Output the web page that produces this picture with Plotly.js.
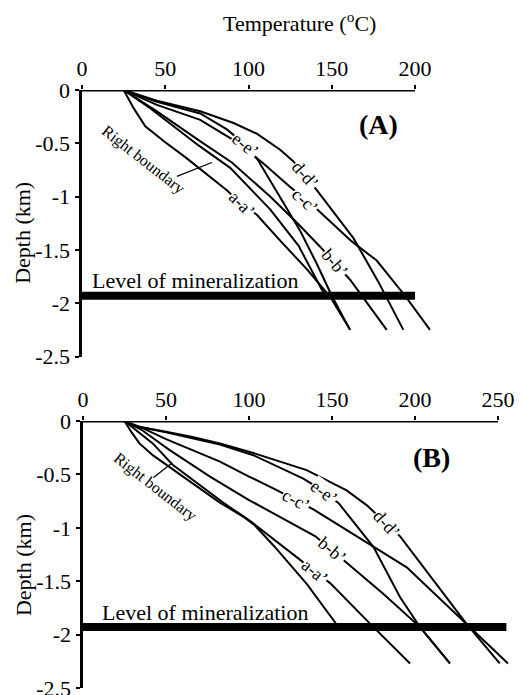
<!DOCTYPE html>
<html><head><meta charset="utf-8">
<script src="https://cdn.plot.ly/plotly-3.0.1.min.js"></script>
<style>html,body{margin:0;padding:0;background:#fff;}#chart{width:523px;height:695px;}</style>
</head><body><div id="chart"></div>
<script>
// ---------- Panel A (temperature °C, depth km) ----------
const A_a_T  = [25,31,38,50,62,75,87,95,105,120,135,149,161];
const A_a_D  = [0,-0.17,-0.34,-0.49,-0.63,-0.79,-0.94,-1.06,-1.17,-1.43,-1.68,-1.94,-2.25];
const A_b_T  = [25,45,70,90,113,130,143,161,183];
const A_b_D  = [0,-0.20,-0.47,-0.68,-1.00,-1.26,-1.47,-1.78,-2.25];
const A_c_T  = [25,45,71,91,109,125,135,144,162,177,194,209];
const A_c_D  = [0,-0.14,-0.28,-0.47,-0.69,-0.91,-1.03,-1.16,-1.42,-1.60,-1.93,-2.25];
const A_d_T  = [25,45,71,91,105,119,127,134,141,163,178,193];
const A_d_D  = [0,-0.10,-0.20,-0.31,-0.41,-0.56,-0.67,-0.80,-0.94,-1.39,-1.80,-2.25];
const A_e_T  = [25,45,71,87,97,105,118,131,141,150,161];
const A_e_D  = [0,-0.11,-0.22,-0.37,-0.50,-0.64,-0.98,-1.32,-1.63,-1.93,-2.25];
const A_rb_T = [25,40,55,70,89,113,130,146];
const A_rb_D = [0,-0.16,-0.34,-0.52,-0.73,-1.12,-1.46,-1.93];
const A_min_T = [0,200];

// ---------- Panel B ----------
const B_a_T  = [25,30,42,54,70,85,101,127,149,173,197];
const B_a_D  = [0,-0.06,-0.21,-0.41,-0.60,-0.77,-0.94,-1.25,-1.52,-1.90,-2.27];
const B_b_T  = [25,35,52,76.5,100,120,140,159,181,203,221];
const B_b_D  = [0,-0.08,-0.27,-0.52,-0.74,-0.91,-1.08,-1.33,-1.62,-1.93,-2.27];
const B_c_T  = [25,35,50,65,82.5,100,117,139,173,195,231,256];
const B_c_D  = [0,-0.06,-0.17,-0.27,-0.38,-0.52,-0.65,-0.83,-1.16,-1.37,-1.90,-2.27];
const B_d_T  = [25,32,50,66,82.5,102.6,134.7,158.8,171,191,211,231,251];
const B_d_D  = [0,-0.05,-0.10,-0.15,-0.21,-0.30,-0.46,-0.65,-0.79,-1.08,-1.49,-1.90,-2.27];
const B_e_T  = [25,32,50,66,82.5,102.6,132.7,140,154,175,191,203,221];
const B_e_D  = [0,-0.05,-0.105,-0.16,-0.22,-0.32,-0.54,-0.61,-0.77,-1.18,-1.65,-1.93,-2.27];
const B_rb_T = [25,29,34,42,62,82,97,103,115,135,153];
const B_rb_D = [0,-0.10,-0.21,-0.32,-0.54,-0.76,-0.90,-0.97,-1.17,-1.53,-1.91];
const B_min_T = [0,255];

const mineralDepth = -1.93;
const tickA = [0,50,100,150,200];
const tickB = [0,50,100,150,200,250];
const depthTicks = [0,-0.5,-1,-1.5,-2,-2.5];
const depthTickText = ['0','-0.5','-1','-1.5','-2','-2.5'];

const FONT = 'Liberation Serif, Times New Roman, serif';
function curve(T, D, xa, ya) {
  return {x: T, y: D, xaxis: xa, yaxis: ya, type: 'scatter', mode: 'lines',
          line: {color: '#000', width: 2}, hoverinfo: 'skip', showlegend: false};
}
function bar(T, xa, ya) {
  return {x: T, y: T.map(() => mineralDepth), xaxis: xa, yaxis: ya, type: 'scatter', mode: 'lines',
          line: {color: '#000', width: 8}, hoverinfo: 'skip', showlegend: false};
}
const data = [
  curve(A_a_T, A_a_D, 'x', 'y'), curve(A_b_T, A_b_D, 'x', 'y'), curve(A_c_T, A_c_D, 'x', 'y'),
  curve(A_d_T, A_d_D, 'x', 'y'), curve(A_e_T, A_e_D, 'x', 'y'), curve(A_rb_T, A_rb_D, 'x', 'y'),
  bar(A_min_T, 'x', 'y'),
  curve(B_a_T, B_a_D, 'x2', 'y2'), curve(B_b_T, B_b_D, 'x2', 'y2'), curve(B_c_T, B_c_D, 'x2', 'y2'),
  curve(B_d_T, B_d_D, 'x2', 'y2'), curve(B_e_T, B_e_D, 'x2', 'y2'), curve(B_rb_T, B_rb_D, 'x2', 'y2'),
  bar(B_min_T, 'x2', 'y2')
];

function xax(domain, range, ticks) {
  return {domain: domain, range: range, side: 'top', showline: false, zeroline: false, showgrid: false,
          ticks: 'outside', ticklen: 4, tickwidth: 2, tickcolor: '#000', ticklabeloverflow: 'allow',
          tickvals: ticks, ticktext: ticks.map(String),
          tickfont: {family: FONT, size: 22, color: '#000'}, fixedrange: true};
}
function yax(domain, anchor) {
  return {domain: domain, range: [-2.5, 0], anchor: anchor, showline: true, linewidth: 3.5, linecolor: '#000',
          zeroline: false, showgrid: false, ticks: 'outside', ticklen: 4, tickwidth: 2, tickcolor: '#000',
          ticklabeloverflow: 'allow',
          tickvals: depthTicks, ticktext: depthTickText,
          tickfont: {family: FONT, size: 22, color: '#000'}, fixedrange: true};
}

function lab(text, x, y, ang, xa, ya) {
  return {text: text, x: x, y: y, xref: xa, yref: ya, showarrow: false, textangle: ang,
          xanchor: 'center', yanchor: 'middle', bgcolor: '#fff', borderpad: 0,
          font: {family: FONT, size: 18, color: '#000'}};
}
function txt(text, x, y, xa, ya, size, extra) {
  return Object.assign({text: text, x: x, y: y, xref: xa, yref: ya, showarrow: false,
          font: {family: FONT, size: size, color: '#000'}}, extra || {});
}

const annotations = [
  txt('Temperature (<sup>o</sup>C)', 0.572, 0.968, 'paper', 'paper', 22, {xanchor: 'center', yanchor: 'middle'}),
  txt('Depth (km)', 0.044, 0.665, 'paper', 'paper', 22, {textangle: -90, xanchor: 'center', yanchor: 'middle'}),
  txt('Depth (km)', 0.044, 0.187, 'paper', 'paper', 22, {textangle: -90, xanchor: 'center', yanchor: 'middle'}),
  txt('<b>(A)</b>', 178, -0.32, 'x', 'y', 28, {xanchor: 'center', yanchor: 'middle'}),
  txt('<b>(B)</b>', 210, -0.34, 'x2', 'y2', 28, {xanchor: 'center', yanchor: 'middle'}),
  txt('Level of mineralization', 4.8, -1.79, 'x', 'y', 22, {xanchor: 'left', yanchor: 'middle'}),
  txt('Level of mineralization', 10, -1.79, 'x2', 'y2', 22, {xanchor: 'left', yanchor: 'middle'}),
  txt('Right boundary', 36.8, -0.66, 'x', 'y', 16, {textangle: 38, xanchor: 'center', yanchor: 'middle'}),
  txt('Right boundary', 43.4, -0.62, 'x2', 'y2', 16, {textangle: 38, xanchor: 'center', yanchor: 'middle'}),
  lab('e-e\u2019', 98, -0.52, 38, 'x', 'y'),
  lab('d-d\u2019', 134, -0.80, 48, 'x', 'y'),
  lab('c-c\u2019', 134, -1.04, 42, 'x', 'y'),
  lab('a-a\u2019', 96, -1.07, 45, 'x', 'y'),
  lab('b-b\u2019', 152, -1.62, 50, 'x', 'y'),
  lab('e-e\u2019', 145, -0.665, 36, 'x2', 'y2'),
  lab('d-d\u2019', 183, -0.96, 48, 'x2', 'y2'),
  lab('c-c\u2019', 128, -0.74, 28, 'x2', 'y2'),
  lab('b-b\u2019', 150, -1.21, 40, 'x2', 'y2'),
  lab('a-a\u2019', 140, -1.41, 40, 'x2', 'y2')
];

const shapes = [
  {type: 'line', xref: 'x', yref: 'y', x0: 0, x1: 200, y0: 0, y1: 0, line: {color: '#000', width: 3}},
  {type: 'line', xref: 'x2', yref: 'y2', x0: 0, x1: 250, y0: 0, y1: 0, line: {color: '#000', width: 3}},
  {type: 'line', xref: 'x', yref: 'y', x0: 57, x1: 78, y0: -0.81, y1: -0.68, line: {color: '#000', width: 1.3}},
  {type: 'line', xref: 'x2', yref: 'y2', x0: 42.5, x1: 53, y0: -0.53, y1: -0.40, line: {color: '#000', width: 1.3}}
];

const layout = {
  width: 523, height: 695, margin: {l: 0, r: 0, t: 0, b: 0},
  paper_bgcolor: '#fff', plot_bgcolor: 'rgba(0,0,0,0)', showlegend: false,
  xaxis: Object.assign(xax([82/523, 435/523], [0, 212], tickA), {anchor: 'y'}),
  yaxis: yax([1 - 356.5/695, 1 - 90/695], 'x'),
  xaxis2: Object.assign(xax([83/523, 512/523], [0, 258.4], tickB), {anchor: 'y2'}),
  yaxis2: yax([1 - 688/695, 1 - 421/695], 'x2'),
  annotations: annotations, shapes: shapes
};
Plotly.newPlot('chart', data, layout, {staticPlot: true, displayModeBar: false});
</script></body></html>
